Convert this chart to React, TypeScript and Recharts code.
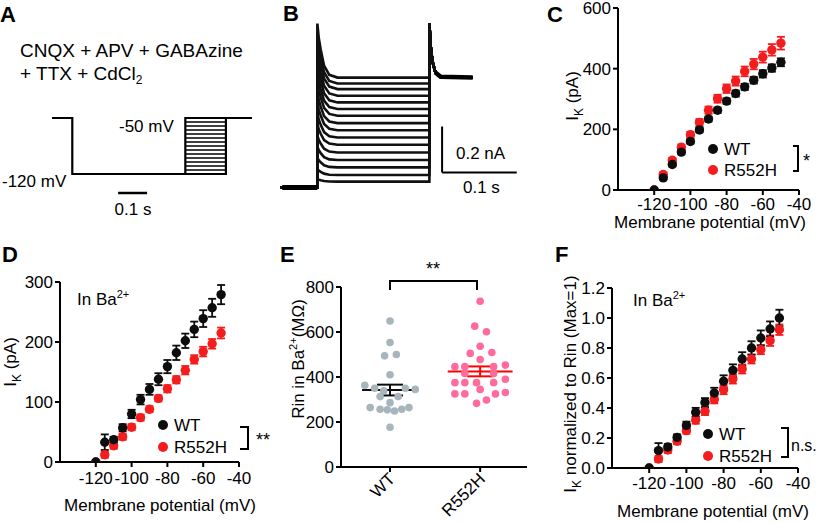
import React from 'react';
import { ScatterChart, Scatter, XAxis, YAxis, ErrorBar, LineChart, Line, ReferenceLine } from 'recharts';

const FONT = '"Liberation Sans", Arial, Helvetica, sans-serif';
const RED = '#f41c1c';
const BLACK = '#0d0d0d';
const GRAY = '#a7b5bc';
const PINK = '#ff6b9b';

// step potentials (mV)
const voltages = [-120, -115, -110, -105, -100, -95, -90, -85, -80, -75, -70, -65, -60, -55, -50];
const xTicks = [-120, -100, -80, -60, -40];

// C: I_K (pA)
const cWt = [0, 40, 84, 125, 160, 198, 234, 263, 293, 318, 340, 362, 383, 402, 421];
const cWtErr = [0, 6, 6, 7, 7, 8, 8, 9, 9, 10, 10, 11, 12, 12, 13];
const cMut = [0, 51, 98, 141, 182, 223, 263, 301, 334, 359, 391, 415, 438, 462, 484];
const cMutErr = [0, 7, 8, 9, 10, 11, 12, 13, 14, 15, 16, 17, 18, 19, 21];

// D: I_K in Ba2+ (pA)
const dWt = [0, 33, 37, 57, 80, 104, 121, 138, 159, 182, 202, 221, 239, 257, 279];
const dWtErr = [0, 13, 5, 6, 7, 8, 9, 10, 11, 12, 12, 13, 14, 15, 16];
const dMut = [0, 12, 27, 42, 58, 74, 88, 106, 122, 137, 153, 171, 184, 197, 215];
const dMutErr = [0, 5, 5, 5, 5, 5, 5, 5, 6, 6, 7, 7, 8, 8, 9];

// F: I_K normalized to Rin
const fWt = [0, 0.116, 0.14, 0.204, 0.284, 0.371, 0.436, 0.5, 0.578, 0.651, 0.727, 0.8, 0.867, 0.927, 1.0];
const fWtErr = [0, 0.05, 0.02, 0.02, 0.025, 0.03, 0.03, 0.035, 0.04, 0.04, 0.045, 0.045, 0.05, 0.05, 0.055];
const fMut = [0, 0.06, 0.12, 0.178, 0.249, 0.32, 0.378, 0.456, 0.522, 0.593, 0.66, 0.727, 0.789, 0.849, 0.922];
const fMutErr = [0, 0.02, 0.02, 0.02, 0.02, 0.025, 0.025, 0.025, 0.03, 0.03, 0.03, 0.03, 0.03, 0.035, 0.035];

// E: Rin in Ba2+ (MOhm), with horizontal jitter of each dot
const groups = ['WT', 'R552H'];
const wtRin = [649, 553, 494, 500, 410, 363, 350, 339, 350, 345, 313, 313, 286, 264, 257, 254, 249, 257, 264, 177];
const wtJitter = [0, 0, -0.06, 0.07, 0, -0.28, -0.17, -0.07, 0.17, 0.28, -0.11, 0.09, 0, -0.22, -0.11, -0.03, 0.05, 0.13, 0.21, 0];
const mutRin = [737, 626, 601, 537, 505, 509, 478, 446, 446, 446, 453, 416, 416, 375, 375, 375, 375, 390, 345, 325, 325, 325, 331, 298, 283];
const mutJitter = [0, -0.06, 0.07, 0, -0.11, 0.13, 0, -0.28, -0.17, 0.15, 0.28, -0.17, 0.15, -0.28, -0.17, -0.04, 0.15, 0.28, 0, -0.28, -0.17, 0.17, 0.28, 0.07, -0.04];
const rinMean = [342, 425];
const rinSem = [24, 22];

// A: voltage protocol (s, mV)
const protoT = [0, 0.07, 0.07, 0.6, 0.6, 0.69];
const protoV = [-50, -50, -120, -120, -50, -50];
const testStart = 0.46;
const testEnd = 0.6;

// B: current traces (s, nA)
const traceLevels = [0.025, 0.054, 0.087, 0.119, 0.152, 0.186, 0.217, 0.249, 0.28, 0.312, 0.341, 0.37, 0.399, 0.428, 0.452, 0.478];
const stepOn = 0.05;
const stepOff = 0.2;
const onsetDt = [0, 0.002, 0.0045, 0.009, 0.016, 0.027];
const onsetExcess = [0.235, 0.17, 0.122, 0.052, 0.012, 0];
const tailT = [0.2, 0.2015, 0.204, 0.208, 0.215, 0.258];
const tailI = [0.713, 0.62, 0.55, 0.5, 0.482, 0.478];

const toPts = (ys: number[], es: number[]) => voltages.map((v, i) => ({ x: v, y: ys[i], e: es[i] }));

const dot = (color: string, r: number) => (p: any) => <circle cx={p.cx} cy={p.cy} r={r} fill={color} />;

const axisProps = {
  axisLine: { stroke: '#000', strokeWidth: 2 },
  tickLine: { stroke: '#000', strokeWidth: 2 },
  tickSize: 5,
  interval: 0,
  tick: { fill: '#000', fontSize: 17 },
};

function IVPanel(props: any) {
  const { box, margin, yAxisWidth, xAxisHeight, yDomain, yTicks, yFmt, wt, mut, xTickMargin } = props;
  const series = [
    { key: 'R552H', data: mut, color: RED },
    { key: 'WT', data: wt, color: BLACK },
  ];
  return (
    <div style={{ position: 'absolute', left: box[0], top: box[1] }}>
      <ScatterChart width={box[2]} height={box[3]} margin={margin}>
        <XAxis type="number" dataKey="x" domain={[-140, -40]} ticks={xTicks} allowDataOverflow
          height={xAxisHeight} tickMargin={xTickMargin} {...axisProps} />
        <YAxis type="number" dataKey="y" domain={yDomain} ticks={yTicks} allowDataOverflow
          width={yAxisWidth} tickMargin={2} tickFormatter={yFmt} {...axisProps} />
        {series.map((s) => (
          <Scatter key={s.key} name={s.key} data={s.data} shape={dot(s.color, 4.7)} isAnimationActive={false}>
            <ErrorBar dataKey="e" direction="y" width={4} stroke={s.color} strokeWidth={1.8} />
          </Scatter>
        ))}
      </ScatterChart>
    </div>
  );
}

function RotTick(props: any) {
  const { x, y, payload } = props;
  const ax = x + 6;
  const ay = y + 6;
  return (
    <text x={ax} y={ay} transform={`rotate(-45 ${ax} ${ay})`} textAnchor="end" fontSize={17} fill="#000">
      {groups[payload.value - 1]}
    </text>
  );
}

function RinPanel() {
  const wtPts = wtRin.map((v, i) => ({ x: 1 + wtJitter[i], y: v }));
  const mutPts = mutRin.map((v, i) => ({ x: 2 + mutJitter[i], y: v }));
  return (
    <div style={{ position: 'absolute', left: 280, top: 230 }}>
      <ScatterChart width={260} height={293} margin={{ top: 57, right: 13, bottom: 6, left: 16 }}>
        <XAxis type="number" dataKey="x" domain={[0.456, 2.52]} ticks={[1, 2]} allowDataOverflow
          height={50} {...axisProps} tick={<RotTick />} />
        <YAxis type="number" dataKey="y" domain={[0, 800]} ticks={[0, 200, 400, 600, 800]}
          width={45} tickMargin={2} {...axisProps} />
        <Scatter data={wtPts} shape={dot(GRAY, 3.8)} isAnimationActive={false} />
        <Scatter data={mutPts} shape={dot(PINK, 3.8)} isAnimationActive={false} />
        <ReferenceLine segment={[{ x: 0.69, y: rinMean[0] }, { x: 1.31, y: rinMean[0] }]} stroke={BLACK} strokeWidth={2} />
        <ReferenceLine segment={[{ x: 1.64, y: rinMean[1] }, { x: 2.36, y: rinMean[1] }]} stroke="#ff0000" strokeWidth={2} />
        <Scatter data={[{ x: 1, y: rinMean[0], e: rinSem[0] }]} shape={() => <g />} isAnimationActive={false}>
          <ErrorBar dataKey="e" direction="y" width={13} stroke={BLACK} strokeWidth={2} />
        </Scatter>
        <Scatter data={[{ x: 2, y: rinMean[1], e: rinSem[1] }]} shape={() => <g />} isAnimationActive={false}>
          <ErrorBar dataKey="e" direction="y" width={13} stroke="#ff0000" strokeWidth={2} />
        </Scatter>
      </ScatterChart>
    </div>
  );
}

function ProtocolPanel() {
  const outline = protoT.map((t, i) => ({ t, v: protoV[i] }));
  const box = [
    { t: testStart, v: -120 },
    { t: testStart, v: -50 },
    { t: testEnd, v: -50 },
  ];
  return (
    <div style={{ position: 'absolute', left: 0, top: 100 }}>
      <LineChart width={270} height={130} margin={{ top: 18, right: 18, bottom: 32, left: 52 }}>
        <XAxis type="number" dataKey="t" domain={[0, 0.69]} hide />
        <YAxis type="number" dataKey="v" domain={[-150, -50]} hide />
        {voltages.map((v) => (
          <Line key={v} data={[{ t: testStart, v }, { t: testEnd, v }]} dataKey="v" dot={false}
            stroke="#000" strokeWidth={1.3} isAnimationActive={false} />
        ))}
        <Line data={outline} dataKey="v" dot={false} stroke="#000" strokeWidth={2.2} isAnimationActive={false} />
        <Line data={box} dataKey="v" dot={false} stroke="#000" strokeWidth={2.2} isAnimationActive={false} />
        <ReferenceLine segment={[{ x: 0.228, y: -143.75 }, { x: 0.328, y: -143.75 }]} stroke="#000" strokeWidth={2.5} />
      </LineChart>
    </div>
  );
}

function TracePanel() {
  const top = traceLevels[traceLevels.length - 1];
  const traces = traceLevels.map((level) => {
    const k = level / top;
    return [
      { t: 0, i: 0 },
      { t: stepOn, i: 0 },
      ...onsetDt.map((dt, j) => ({ t: stepOn + dt, i: level + onsetExcess[j] * k })),
      { t: stepOff, i: level },
      ...tailT.map((t, j) => ({ t, i: tailI[j] })),
    ];
  });
  return (
    <div style={{ position: 'absolute', left: 270, top: 0 }}>
      <LineChart width={270} height={200} margin={{ top: 22, right: 13.5, bottom: 8, left: 10 }}>
        <XAxis type="number" dataKey="t" domain={[0, 0.33]} hide />
        <YAxis type="number" dataKey="i" domain={[-0.02, 0.72]} hide />
        {traces.map((d, idx) => (
          <Line key={idx} data={d} dataKey="i" dot={false} stroke="#111" strokeWidth={2.6} isAnimationActive={false} />
        ))}
        <Line data={[{ t: 0.003, i: 0 }, { t: stepOn, i: 0 }]} dataKey="i" dot={false} stroke="#000" strokeWidth={5} isAnimationActive={false} />
        <Line data={tailT.slice(3).map((t, j) => ({ t, i: tailI[j + 3] }))} dataKey="i" dot={false} stroke="#000" strokeWidth={4.5} isAnimationActive={false} />
        <ReferenceLine segment={[{ x: 0.217, y: 0.065 }, { x: 0.217, y: 0.265 }]} stroke="#000" strokeWidth={2} />
        <ReferenceLine segment={[{ x: 0.217, y: 0.065 }, { x: 0.317, y: 0.065 }]} stroke="#000" strokeWidth={2} />
      </LineChart>
    </div>
  );
}

function Legend2({ x, y1, y2 }: { x: number; y1: number; y2: number }) {
  return (
    <g fontSize={17} fill="#000">
      <circle cx={x} cy={y1 - 6} r={5} fill={BLACK} />
      <text x={x + 11} y={y1}>WT</text>
      <circle cx={x} cy={y2 - 6} r={5} fill={RED} />
      <text x={x + 11} y={y2}>R552H</text>
    </g>
  );
}

function YTitle({ cx, cy, children }: { cx: number; cy: number; children: any }) {
  return (
    <text x={-cy} y={cx} transform="rotate(-90)" textAnchor="middle" fontSize={17} fill="#000">
      {children}
    </text>
  );
}

function Annotations() {
  const letter = { fontSize: 22, fontWeight: 'bold' as const, fill: '#000' };
  const xt = { fontSize: 17, fill: '#000', textAnchor: 'middle' as const };
  return (
    <svg width={820} height={523} style={{ position: 'absolute', left: 0, top: 0, pointerEvents: 'none' }}>
      <text x={0} y={22} {...letter}>A</text>
      <text x={283} y={21} {...letter}>B</text>
      <text x={547} y={22} {...letter}>C</text>
      <text x={2} y={262} {...letter}>D</text>
      <text x={280} y={262} {...letter}>E</text>
      <text x={555} y={262} {...letter}>F</text>

      <text x={20} y={57} fontSize={19} fill="#000">CNQX + APV + GABAzine</text>
      <text x={20} y={80} fontSize={19} fill="#000">+ TTX + CdCl<tspan dy={4} fontSize={12}>2</tspan></text>
      <text x={119} y={132} fontSize={17} fill="#000">-50 mV</text>
      <text x={2} y={187} fontSize={17} fill="#000">-120 mV</text>
      <text x={133} y={215} fontSize={17} fill="#000" textAnchor="middle">0.1 s</text>

      <text x={456} y={159} fontSize={17} fill="#000">0.2 nA</text>
      <text x={463} y={193} fontSize={17} fill="#000">0.1 s</text>

      <Legend2 x={713} y1={155} y2={176} />
      <path d="M793 146 H798 V171 H793" stroke="#000" strokeWidth={2} fill="none" />
      <text x={803} y={167} fontSize={18} fill="#000">*</text>
      <text x={710} y={228} {...xt}>Membrane potential (mV)</text>
      <YTitle cx={578} cy={96}>I<tspan dy={5} fontSize={12}>K</tspan><tspan dy={-5}> (pA)</tspan></YTitle>

      <text x={77} y={305} fontSize={17} fill="#000">In Ba<tspan dy={-7} fontSize={11}>2+</tspan></text>
      <Legend2 x={163} y1={431} y2={453} />
      <path d="M240 427 H248 V449 H240" stroke="#000" strokeWidth={2} fill="none" />
      <text x={256} y={446} fontSize={18} fill="#000">**</text>
      <text x={160} y={511} {...xt}>Membrane potential (mV)</text>
      <YTitle cx={16} cy={362}>I<tspan dy={5} fontSize={12}>K</tspan><tspan dy={-5}> (pA)</tspan></YTitle>

      <text x={433} y={275} fontSize={18} fill="#000" textAnchor="middle">**</text>
      <path d="M390 290 V281 H477 V290" stroke="#000" strokeWidth={2} fill="none" />
      <YTitle cx={304} cy={359}>Rin in Ba<tspan dy={-7} fontSize={11}>2+</tspan><tspan dy={7}>(MΩ)</tspan></YTitle>

      <text x={633} y={306} fontSize={17} fill="#000">In Ba<tspan dy={-7} fontSize={11}>2+</tspan></text>
      <Legend2 x={708} y1={440} y2={462} />
      <path d="M781 428 H788 V457 H781" stroke="#000" strokeWidth={2} fill="none" />
      <text x={791} y={451} fontSize={16} fill="#000">n.s.</text>
      <text x={713} y={517} {...xt}>Membrane potential (mV)</text>
      <YTitle cx={576} cy={384}>I<tspan dy={5} fontSize={12}>K</tspan><tspan dy={-5}> normalized to Rin (Max=1)</tspan></YTitle>
    </svg>
  );
}

export default function App() {
  return (
    <div style={{ position: 'absolute', left: 0, top: 0, width: 820, height: 523, background: '#fff', fontFamily: FONT, overflow: 'hidden' }}>
      <ProtocolPanel />
      <TracePanel />
      <IVPanel box={[530, 0, 290, 230]} margin={{ top: 8, right: 21, bottom: 6, left: 43 }}
        yAxisWidth={45} xAxisHeight={34} xTickMargin={3}
        yDomain={[0, 600]} yTicks={[0, 200, 400, 600]}
        wt={toPts(cWt, cWtErr)} mut={toPts(cMut, cMutErr)} />
      <IVPanel box={[0, 230, 280, 293]} margin={{ top: 52, right: 41, bottom: 12, left: 20 }}
        yAxisWidth={40} xAxisHeight={49} xTickMargin={5}
        yDomain={[0, 300]} yTicks={[0, 100, 200, 300]}
        wt={toPts(dWt, dWtErr)} mut={toPts(dMut, dMutErr)} />
      <RinPanel />
      <IVPanel box={[540, 230, 280, 293]} margin={{ top: 58, right: 22, bottom: 6, left: 27 }}
        yAxisWidth={45} xAxisHeight={49} xTickMargin={4}
        yDomain={[0, 1.2]} yTicks={[0, 0.2, 0.4, 0.6, 0.8, 1.0, 1.2]} yFmt={(v: number) => v.toFixed(1)}
        wt={toPts(fWt, fWtErr)} mut={toPts(fMut, fMutErr)} />
      <Annotations />
    </div>
  );
}
